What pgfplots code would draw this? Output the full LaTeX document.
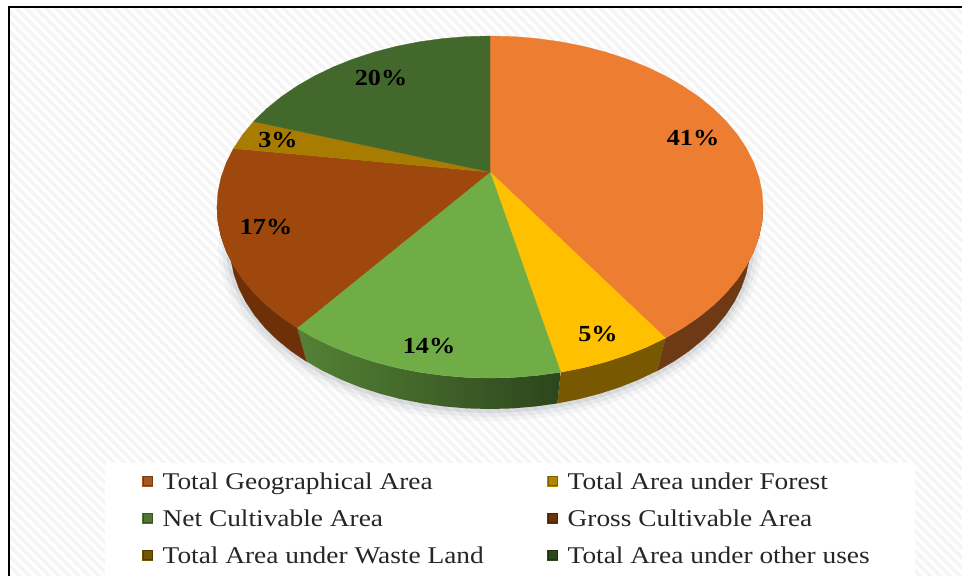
\documentclass[border=0pt]{standalone}
\usepackage{fontspec}
\setmainfont[FakeStretch=1.14]{Liberation Serif}
\usepackage{pgfplots}
\usepackage{pgfplotstable}
\pgfplotsset{compat=1.18}
\usetikzlibrary{patterns.meta}

\definecolor{cOrange}{HTML}{ED7D31}
\definecolor{cYellow}{HTML}{FFC000}
\definecolor{cGreen}{HTML}{70AD47}
\definecolor{cBrown}{HTML}{9E480E}
\definecolor{cWaste}{HTML}{A87C00}
\definecolor{cDark}{HTML}{43682B}
\definecolor{sOrange}{HTML}{6E3A16}
\definecolor{sYellow}{HTML}{785800}
\definecolor{sBrown}{HTML}{6E3008}
\definecolor{cShadow}{HTML}{7C8490}

% lower rim of the pie, image pixels
\pgfplotstableread{
x y
745 210
750 246
749 260.2
746 274.3
741.1 288.2
734.3 301.7
725.6 314.9
715.2 327.5
703 339.5
689.2 350.8
673.8 361.3
657.1 370.9
639.1 379.5
620 387.2
599.9 393.7
578.9 399.2
557.3 403.4
535.1 406.5
512.7 408.4
490 409
467.3 408.4
444.9 406.5
422.7 403.4
401.1 399.2
380.1 393.7
360 387.2
340.9 379.5
322.9 370.9
306.2 361.3
290.8 350.8
277 339.5
264.8 327.5
254.4 314.9
245.7 301.7
238.9 288.2
234 274.3
231 260.2
230 246
235 210
}\rimtable

\newcommand{\legkey}{\fontsize{24}{24}\selectfont}

\begin{document}
\begin{tikzpicture}
\begin{axis}[
scale only axis,
width=962pt, height=576pt,
xmin=0, xmax=962,
ymin=0, ymax=576,
y dir=reverse,
hide axis,
legend columns=2,
legend cell align=left,
legend image code/.code={
	\path[draw=none,fill=none] (0pt,0pt) rectangle (19pt,.1pt);
	\path[#1,draw=none] (0pt,-5pt) rectangle (11pt,6pt);
	\draw[black,opacity=.3,line width=1.4pt] (.7pt,-4.3pt) rectangle (10.3pt,5.3pt);
},
legend style={
	at={(axis cs:142,471)}, anchor=north west,
	fill=none, draw=none,
	font=\legkey, text=black!85,
	inner sep=0pt,
	/tikz/row sep=15.8pt,
	/tikz/column sep=0pt,
	nodes={inner sep=1.5pt, anchor=west},
},
]
% hatched background and plain legend panel
\addplot[forget plot, draw=none, fill=white] coordinates {(0,0)(962,0)(962,576)(0,576)(0,0)};
\addplot[forget plot, draw=none, pattern={Lines[angle=-45,distance=7pt,line width=3.5pt]}, pattern color=black!4]
	coordinates {(9,7)(962,7)(962,576)(9,576)(9,7)};
\addplot[forget plot, draw=none, fill=white] coordinates {(105,463)(915,463)(915,576)(105,576)(105,463)};
\addplot[forget plot, black, line width=2.6pt] coordinates {(9,576)(9,7)(962,7)};

% soft shadow round the lower rim
\addplot[forget plot, draw=cShadow, line width=24pt, opacity=.06, line join=round] table[x=x,y=y] {\rimtable};
\addplot[forget plot, draw=cShadow, line width=16pt, opacity=.09, line join=round] table[x=x,y=y] {\rimtable};
\addplot[forget plot, draw=cShadow, line width=8pt, opacity=.14, line join=round] table[x=x,y=y] {\rimtable};

% side wall
\addplot[forget plot, draw=sOrange, line width=.3pt, fill=sOrange] coordinates {
	(763,207)(762,221.9)(758.9,236.7)(753.7,251.3)(746.5,265.5)(737.4,279.3)(726.4,292.5)(713.6,305.1)(699.1,316.9)(683,327.9)(665.5,338)
	(657.1,370.9)(673.8,361.3)(689.2,350.8)(703,339.5)(715.2,327.5)(725.6,314.9)(734.3,301.7)(741.1,288.2)(746,274.3)(749,260.2)(750,246)(763,207)};
\addplot[forget plot, draw=none, fill=sYellow] coordinates {
	(665.5,338)(646.6,347.1)(626.5,355.1)(605.4,362)(583.4,367.7)(560.7,372.2)
	(557.3,403.4)(578.9,399.2)(599.9,393.7)(620,387.2)(639.1,379.5)(657.1,370.9)(665.5,338)};
\addplot[forget plot, draw=none, left color=black!25!cGreen, middle color=black!52!cGreen, right color=black!60!cGreen] coordinates {
	(560.7,372.2)(537.4,375.4)(513.8,377.4)(490,378)(466.2,377.4)(442.6,375.4)(419.3,372.2)(396.6,367.7)(374.6,362)(353.5,355.1)(333.4,347.1)(314.5,338)(297,327.9)
	(306.2,361.3)(322.9,370.9)(340.9,379.5)(360,387.2)(380.1,393.7)(401.1,399.2)(422.7,403.4)(444.9,406.5)(467.3,408.4)(490,409)(512.7,408.4)(535.1,406.5)(557.3,403.4)(560.7,372.2)};
\addplot[forget plot, draw=sBrown, line width=.3pt, fill=sBrown] coordinates {
	(297,327.9)(280.9,316.9)(266.4,305.1)(253.6,292.5)(242.6,279.3)(233.5,265.5)(226.3,251.3)(221.1,236.7)(218,221.9)(217,207)
	(230,246)(231,260.2)(234,274.3)(238.9,288.2)(245.7,301.7)(254.4,314.9)(264.8,327.5)(277,339.5)(290.8,350.8)(306.2,361.3)(297,327.9)};

% top face, one wedge for each share
\addplot[draw=cOrange, line width=.3pt, fill=cOrange] coordinates {
	(490,172)(490,36)(513.8,36.6)(537.4,38.6)(560.7,41.8)(583.4,46.3)(605.4,52)(626.5,58.9)(646.6,66.9)(665.5,76)(683,86.1)(699.1,97.1)(713.6,108.9)(726.4,121.5)
	(737.4,134.7)(746.5,148.5)(753.7,162.7)(758.9,177.3)(762,192.1)(763,207)(762,221.9)(758.9,236.7)(753.7,251.3)(746.5,265.5)(737.4,279.3)(726.4,292.5)(713.6,305.1)(699.1,316.9)
	(683,327.9)(665.5,338)(490,172)};
\addlegendentry{\makebox[383pt][l]{Total Geographical Area}}
\addplot[draw=cYellow, line width=.3pt, fill=cYellow] coordinates {
	(490,172)(665.5,338)(646.6,347.1)(626.5,355.1)(605.4,362)(583.4,367.7)(560.7,372.2)(490,172)};
\addlegendentry{Total Area under Forest}
\addplot[draw=cGreen, line width=.3pt, fill=cGreen] coordinates {
	(490,172)(560.7,372.2)(537.4,375.4)(513.8,377.4)(490,378)(466.2,377.4)(442.6,375.4)(419.3,372.2)(396.6,367.7)(374.6,362)(353.5,355.1)(333.4,347.1)(314.5,338)(297,327.9)(490,172)};
\addlegendentry{\makebox[383pt][l]{Net Cultivable Area}}
\addplot[draw=cBrown, line width=.3pt, fill=cBrown] coordinates {
	(490,172)(297,327.9)(280.9,316.9)(266.4,305.1)(253.6,292.5)(242.6,279.3)(233.5,265.5)(226.3,251.3)(221.1,236.7)(218,221.9)(217,207)(218,192.1)(221.1,177.3)(226.3,162.7)(233.5,148.5)(490,172)};
\addlegendentry{Gross Cultivable Area}
\addplot[draw=cWaste, line width=.3pt, fill=cWaste] coordinates {
	(490,172)(233.5,148.5)(242.6,134.7)(253.6,121.5)(490,172)};
\addlegendentry{\makebox[383pt][l]{Total Area under Waste Land}}
\addplot[draw=cDark, line width=.3pt, fill=cDark] coordinates {
	(490,172)(253.6,121.5)(266.4,108.9)(280.9,97.1)(297,86.1)(314.5,76)(333.4,66.9)(353.5,58.9)(374.6,52)(396.6,46.3)(419.3,41.8)(442.6,38.6)(466.2,36.6)(490,36)(490,172)};
\addlegendentry{Total Area under other uses}

% share labels
\tikzset{share/.style={font=\fontsize{23}{23}\selectfont\bfseries, text=black, inner sep=0pt}}
\node[share] at (axis cs:693,138) {41\%};
\node[share] at (axis cs:598,334) {5\%};
\node[share] at (axis cs:429,346) {14\%};
\node[share] at (axis cs:266,227) {17\%};
\node[share] at (axis cs:278,140) {3\%};
\node[share] at (axis cs:381,78) {20\%};
\end{axis}
\end{tikzpicture}
\end{document}
